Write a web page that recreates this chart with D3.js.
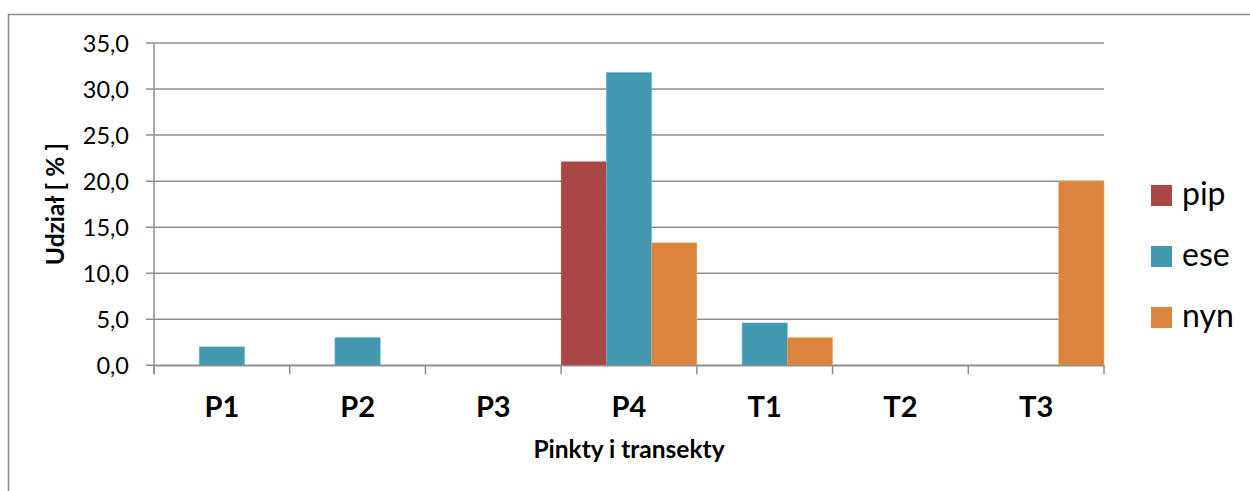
<!DOCTYPE html>
<html>
<head>
<meta charset="utf-8">
<script src="https://cdn.jsdelivr.net/npm/d3@7"></script>
<style>
  body { margin: 0; background: #fff; }
  text { font-family: Lato, "Open Sans", sans-serif; fill: #000; }
</style>
</head>
<body>
<div id="chart"></div>
<script>
// categories and series
var categories = ["P1", "P2", "P3", "P4", "T1", "T2", "T3"];
var seriesNames = ["pip", "ese", "nyn"];
var pip = [0, 0, 0, 22.1, 0, 0, 0];
var ese = [2.0, 3.0, 0, 31.8, 4.6, 0, 0];
var nyn = [0, 0, 0, 13.3, 3.0, 0, 20.0];
var colors = ["#A84745", "#4398B0", "#DB843D"];
var yTicks = [0, 5, 10, 15, 20, 25, 30, 35];

var W = 1250, H = 491;
var margin = {top: 43, right: 146, bottom: 125.7, left: 154},
    width = W - margin.left - margin.right,
    height = H - margin.top - margin.bottom;

var svg = d3.select("#chart")
  .append("svg")
  .attr("width", W)
  .attr("height", H);

// outer frame (only left and top edges visible in the picture)
svg.append("path")
  .attr("d", "M8.5," + H + "V14.5H" + W)
  .attr("fill", "none")
  .attr("stroke", "#8a8a8a")
  .attr("stroke-width", 1.5);

var g = svg.append("g")
  .attr("transform", "translate(" + margin.left + "," + margin.top + ")");

var x0 = d3.scaleBand()
  .domain(categories)
  .range([0, width])
  .paddingInner(0)
  .paddingOuter(0);

var x1 = d3.scaleBand()
  .domain(seriesNames)
  .range([0, x0.bandwidth()])
  .paddingInner(0)
  .paddingOuter(0);

var y = d3.scaleLinear()
  .domain([0, 35])
  .range([height, 0]);

// gridlines
g.append("g")
  .selectAll("line")
  .data(yTicks)
  .enter()
  .append("line")
    .attr("x1", -8)
    .attr("x2", width)
    .attr("y1", function (d) { return y(d); })
    .attr("y2", function (d) { return y(d); })
    .attr("stroke", "#8f8f8f")
    .attr("stroke-width", 1.5);

// y axis
var yAxis = g.append("g")
  .call(d3.axisLeft(y).tickValues(yTicks).tickSize(0).tickPadding(25)
    .tickFormat(function (d) { return d3.format(".1f")(d).replace(".", ","); }));
yAxis.select(".domain").remove();
yAxis.selectAll("text")
  .attr("font-size", "23.5px")
  .attr("dy", "0.36em")
  .style("font-family", "Lato, sans-serif");

g.append("line")
  .attr("x1", 0).attr("x2", 0)
  .attr("y1", 0).attr("y2", height + 9)
  .attr("stroke", "#8f8f8f")
  .attr("stroke-width", 1.5);

// bars
var seriesData = [pip, ese, nyn];
seriesNames.forEach(function (name, si) {
  g.append("g")
    .selectAll("rect")
    .data(seriesData[si])
    .enter()
    .append("rect")
      .attr("x", function (d, i) { return x0(categories[i]) + x1(name); })
      .attr("y", function (d) { return y(d); })
      .attr("width", x1.bandwidth())
      .attr("height", function (d) { return height - y(d); })
      .attr("fill", colors[si])
      .attr("stroke", d3.color(colors[si]).brighter(0.6))
      .attr("stroke-width", 0.5);
});

// x axis
var xAxis = g.append("g")
  .attr("transform", "translate(0," + height + ")")
  .call(d3.axisBottom(x0).tickSize(0).tickPadding(31));
xAxis.select(".domain")
  .attr("stroke", "#8f8f8f")
  .attr("stroke-width", 1.5);
xAxis.selectAll("text")
  .attr("font-size", "29px")
  .attr("font-weight", "bold")
  .style("font-family", "Lato, sans-serif");

// category boundary ticks
g.append("g")
  .selectAll("line")
  .data(categories.concat(["end"]))
  .enter()
  .append("line")
    .attr("x1", function (d, i) { return i * x0.step(); })
    .attr("x2", function (d, i) { return i * x0.step(); })
    .attr("y1", height)
    .attr("y2", height + 9)
    .attr("stroke", "#8f8f8f")
    .attr("stroke-width", 1.5);

// axis titles
g.append("text")
  .attr("x", width / 2)
  .attr("y", height + 93)
  .attr("text-anchor", "middle")
  .attr("font-size", "24.5px")
  .attr("font-weight", "bold")
  .text("Pinkty i transekty");

g.append("text")
  .attr("transform", "translate(" + (64 - margin.left) + "," + (height / 2) + ") rotate(-90)")
  .attr("text-anchor", "middle")
  .attr("font-size", "24.5px")
  .attr("font-weight", "bold")
  .text("Udział [ % ]");

// legend
var legend = svg.append("g")
  .attr("transform", "translate(1151,185)");
var li = legend.selectAll("g")
  .data(seriesNames)
  .enter()
  .append("g")
    .attr("transform", function (d, i) { return "translate(0," + (i * 61) + ")"; });
li.append("rect")
  .attr("width", 21)
  .attr("height", 21)
  .attr("fill", function (d, i) { return colors[i]; });
li.append("text")
  .attr("x", 31)
  .attr("y", 20)
  .attr("font-size", "32px")
  .text(function (d) { return d; });
</script>
</body>
</html>
